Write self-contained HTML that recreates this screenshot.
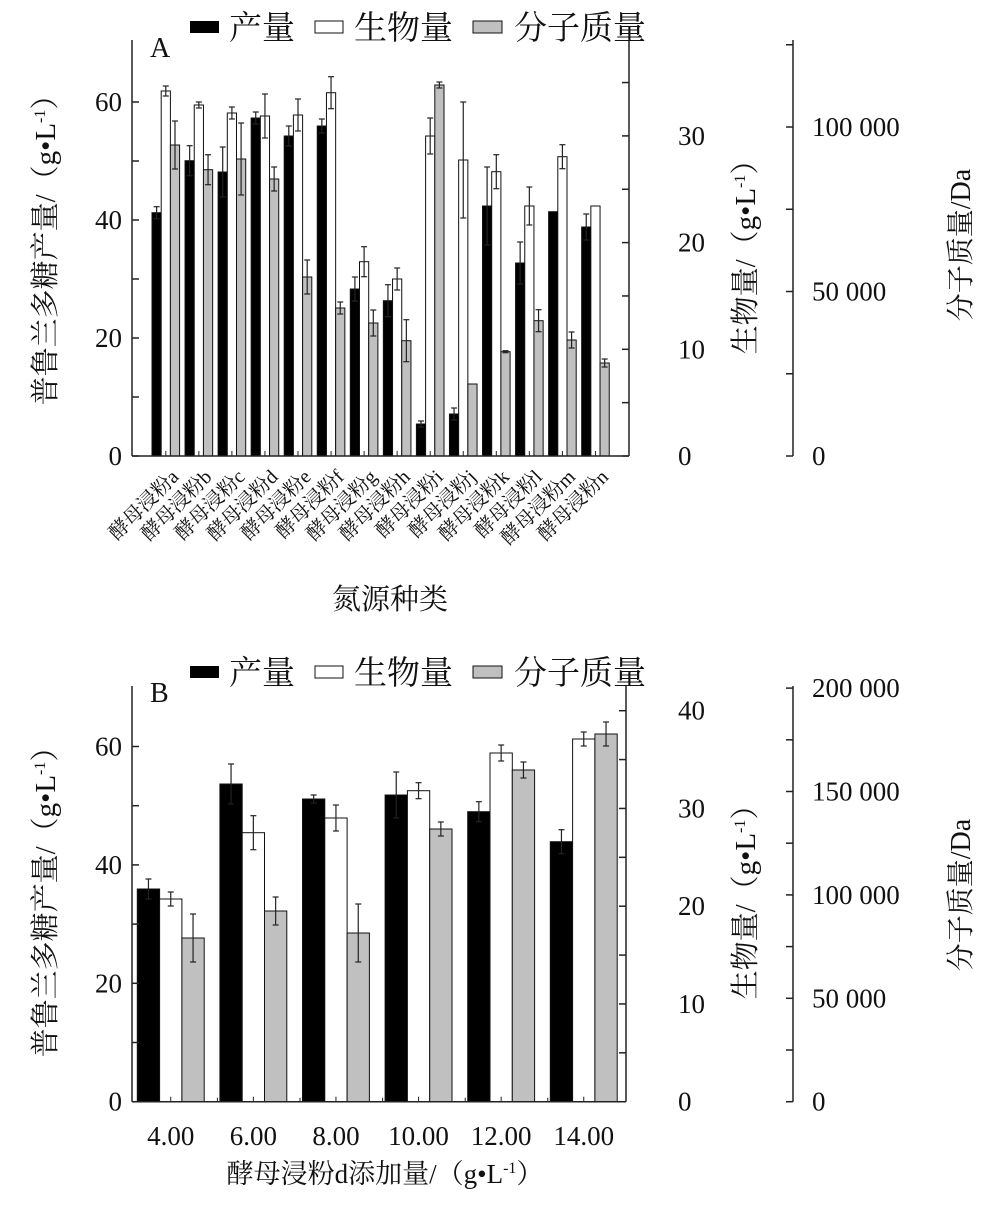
<!DOCTYPE html>
<html><head><meta charset="utf-8"><style>
html,body{margin:0;padding:0;background:#fff;}
svg{display:block;font-family:"Liberation Serif","Noto Serif CJK SC",serif;}
</style></head><body>
<svg id="s" width="990" height="1215" xmlns="http://www.w3.org/2000/svg"></svg>
<script>
const s=document.getElementById('s');let h='';
const L=(x1,y1,x2,y2,w)=>h+=`<line x1="${x1}" y1="${y1}" x2="${x2}" y2="${y2}" stroke="#222" stroke-width="${w||1.5}"/>`;
const T=(x,y,t,sz,anc,extra)=>h+=`<text x="${x}" y="${y}" font-size="${sz}" text-anchor="${anc||'start'}" fill="#111" ${extra||''}>${t}</text>`;
const fills=['#000','#fff','#c0c0c0'];
function bar(x,w,top,base,f,e){h+=`<rect x="${x}" y="${top}" width="${w}" height="${base-top}" fill="${f}" stroke="#111" stroke-width="1"/>`;
 if(e>0){const c=x+w/2;L(c,top-e,c,top+e,1.2);L(c-3,top-e,c+3,top-e,1.2);L(c-3,top+e,c+3,top+e,1.2);}}
const sup='/（g•L<tspan font-size="16" dy="-10">-1</tspan><tspan dy="10">）</tspan>';
function legend(y){ // y = baseline
 h+=`<rect x="190" y="${y-18}" width="29" height="12" fill="#000"/>`;T(229,y,'产量',33);
 h+=`<rect x="315" y="${y-18}" width="28" height="12" fill="#fff" stroke="#111"/>`;T(354,y,'生物量',33);
 h+=`<rect x="473" y="${y-18}" width="29" height="12" fill="#c0c0c0" stroke="#111"/>`;T(514,y,'分子质量',33);
}
// Panel A
const A=[[212.7,6,91,5,145,24],[160.7,15,105,3,169.7,15],[172,25,113,6,159,36],[118,6,116,22,179,12],[136,10,115,16,277,17],[126,7,92.7,16,308,6],[289,12,261.7,15,323,13],[300.7,16,279,11,340.7,21],[424,3,136,18,85,3],[414,6,160,58,384,0],[206,39,171.7,17,351.7,1],[263,21,206,19,320.7,11],[211.7,0,156.7,12,340,8],[227,13,206,0,363,4]];
const bA=456;
A.forEach((d,i)=>{const x=152+i*33.05,w=9.2;for(let k=0;k<3;k++)bar(x+k*w,w,d[2*k],bA,fills[k],d[2*k+1]);
 L(x+w*1.5,bA,x+w*1.5,bA-5,1);
 T(x+w*1.5+14,478,'酵母浸粉'+'abcdefghijklmn'[i],20,'end',`transform="rotate(-45 ${x+w*1.5+14} 478)"`);});
L(132,40,132,bA);L(132,bA,629,bA);L(629,40,629,bA);L(793,40,793,bA);
for(let v=0;v<=60;v+=10){const y=bA-v*5.9;L(132,y,139,y);if(v%20==0)T(122,y+9,v,27,'end');}
for(let v=0;v<=35;v+=5){const y=bA-v*10.67;L(622,y,629,y);if(v%10==0)T(678,y+9,v,27,'start');}
for(let v=0;v<=125000;v+=25000){const y=bA-v/50000*164.5;L(786,y,793,y);if(v%50000==0)T(812,y+9,v==0?'0':(v/1000)+' 000',27,'start');}
T(150,57,'A',28);
legend(39);
T(390,609,'氮源种类',29,'middle');
T(55,243,'普鲁兰多糖产量'+sup,29,'middle','transform="rotate(-90 55 243)"');
T(755,250,'生物量'+sup,29,'middle','transform="rotate(-90 755 250)"');
T(970,245,'分子质量/Da',28,'middle','transform="rotate(-90 970 245)"');
// Panel B
const B=[[889,10,899,7,938,24],[784,20,832.7,17,911,14],[799,4,818,13,933,29],[795,23,790.7,8,829,7],[811.7,10,753,8,770,8],[841.7,12,739,7,734,12]];
const bB=1101.7;
B.forEach((d,i)=>{const x=137.3+i*82.6,w=22.3;for(let k=0;k<3;k++)bar(x+k*w,w,d[2*k],bB,fills[k],d[2*k+1]);
 L(x+w*1.5,bB,x+w*1.5,bB-5,1);if(i>0)L(x-2.5,bB,x-2.5,bB-4,1);
 T(x+w*1.5,1145,['4.00','6.00','8.00','10.00','12.00','14.00'][i],27,'middle');});
L(132,686,132,bB);L(132,bB,626,bB);L(626,686,626,bB);L(793,686,793,bB);
for(let v=0;v<=60;v+=10){const y=bB-v*5.92;L(132,y,139,y);if(v%20==0)T(122,y+9,v,27,'end');}
for(let v=0;v<=40;v+=5){const y=bB-v*9.775;L(619,y,626,y);if(v%10==0)T(678,y+9,v,27,'start');}
for(let v=0;v<=200000;v+=25000){const y=bB-v/50000*103.4;L(786,y,793,y);if(v%50000==0)T(812,y+9,v==0?'0':(v/1000)+' 000',27,'start');}
T(150,702,'B',28);
legend(684);
T(385,1183,'酵母浸粉d添加量'+sup,27,'middle');
T(55,895,'普鲁兰多糖产量'+sup,29,'middle','transform="rotate(-90 55 895)"');
T(755,895,'生物量'+sup,29,'middle','transform="rotate(-90 755 895)"');
T(970,895,'分子质量/Da',28,'middle','transform="rotate(-90 970 895)"');
s.innerHTML=h;
</script>
</body></html>
